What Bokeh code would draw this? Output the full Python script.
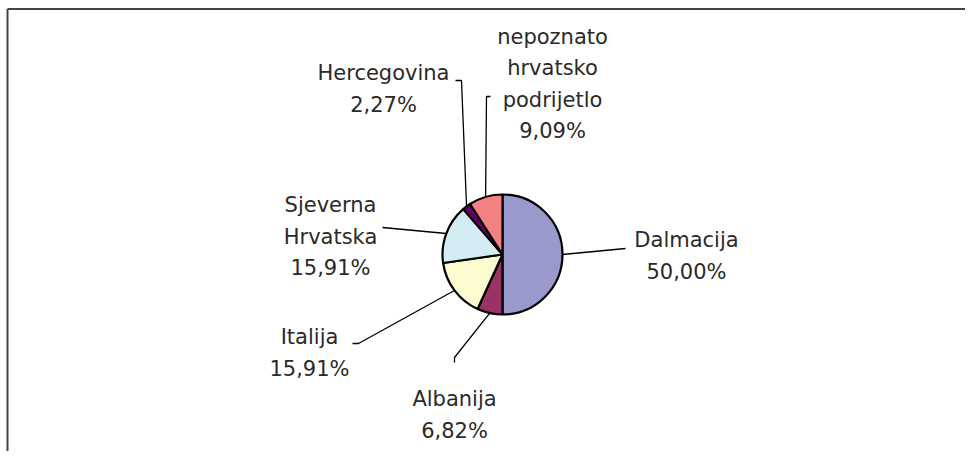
import math
from bokeh.plotting import figure
from bokeh.models import Range1d, ColumnDataSource
from bokeh.core.properties import value
from bokeh.embed import file_html
from bokeh.resources import INLINE

# ---- data ----
categories = ["Dalmacija", "Albanija", "Italija", "Sjeverna Hrvatska",
              "Hercegovina", "nepoznato hrvatsko podrijetlo"]
name_lines = [["Dalmacija"], ["Albanija"], ["Italija"], ["Sjeverna", "Hrvatska"],
              ["Hercegovina"], ["nepoznato", "hrvatsko", "podrijetlo"]]
percent = [50.00, 6.82, 15.91, 15.91, 2.27, 9.09]
colors = ["#9999cc", "#993366", "#fcfcd0", "#d4ecf4", "#660066", "#f48282"]

# ---- layout (picture pixel coordinates) ----
CX, CY, R = 502, 254, 60
label_x = [686, 454, 309, 330, 383, 552]
label_base = [239.5, 398.5, 336.5, 204.5, 72.5, 36.0]
PITCH = 31.6
leader_end = [(625, 248), (454, 357), (358, 343), (382, 227), (461, 80), (486, 96)]
leader_tick = [None, (454, 362), (352, 343), None, (455, 80), (490, 96)]

W, H = 965, 451
p = figure(width=W, height=H, output_backend="svg", toolbar_location=None,
           x_range=Range1d(0, W), y_range=Range1d(-H, 0),
           x_axis_location=None, y_axis_location=None, min_border=0,
           outline_line_color=None, background_fill_color="white",
           border_fill_color="white")
p.grid.visible = False

# chart-area border (only top and left edges are within the picture)
p.segment(x0=[7, 7], y0=[-8.5, -8.5], x1=[W + 10, 7], y1=[-8.5, -(H + 10)],
          line_color="#444444", line_width=2)

total = sum(percent)
starts, ends, mids = [], [], []
cum = 0.0
for v in percent:
    a0 = cum / total
    cum += v
    a1 = cum / total
    starts.append(math.pi / 2 - a0 * 2 * math.pi)
    ends.append(math.pi / 2 - a1 * 2 * math.pi)
    mids.append(math.pi / 2 - (a0 + a1) / 2 * 2 * math.pi)

src = ColumnDataSource(dict(x=[CX] * len(percent), y=[-CY] * len(percent),
                            s=starts, e=ends, c=colors))
p.wedge(x="x", y="y", radius=R, start_angle="s", end_angle="e", direction="clock",
        fill_color="c", line_color="black", line_width=2.2, source=src)

# leader lines
xs, ys = [], []
for i, m in enumerate(mids):
    px = CX + R * math.cos(m)
    py = CY - R * math.sin(m)
    lx = [px, leader_end[i][0]]
    ly = [-py, -leader_end[i][1]]
    if leader_tick[i] is not None:
        lx.append(leader_tick[i][0])
        ly.append(-leader_tick[i][1])
    xs.append(lx)
    ys.append(ly)
p.multi_line(xs=xs, ys=ys, line_color="black", line_width=1.3)

# labels
tx, ty, tt = [], [], []
for i, lines in enumerate(name_lines):
    pct = f"{percent[i]:.2f}".replace(".", ",") + "%"
    for k, t in enumerate(lines + [pct]):
        tx.append(label_x[i])
        ty.append(-(label_base[i] + k * PITCH))
        tt.append(t)
p.text(x=tx, y=ty, text=tt, text_align="center", text_baseline="alphabetic",
       text_font=value("DejaVu Sans"), text_font_size="21px", text_color="#2a2a2a")

open("out.html", "w").write(file_html(p, INLINE))
